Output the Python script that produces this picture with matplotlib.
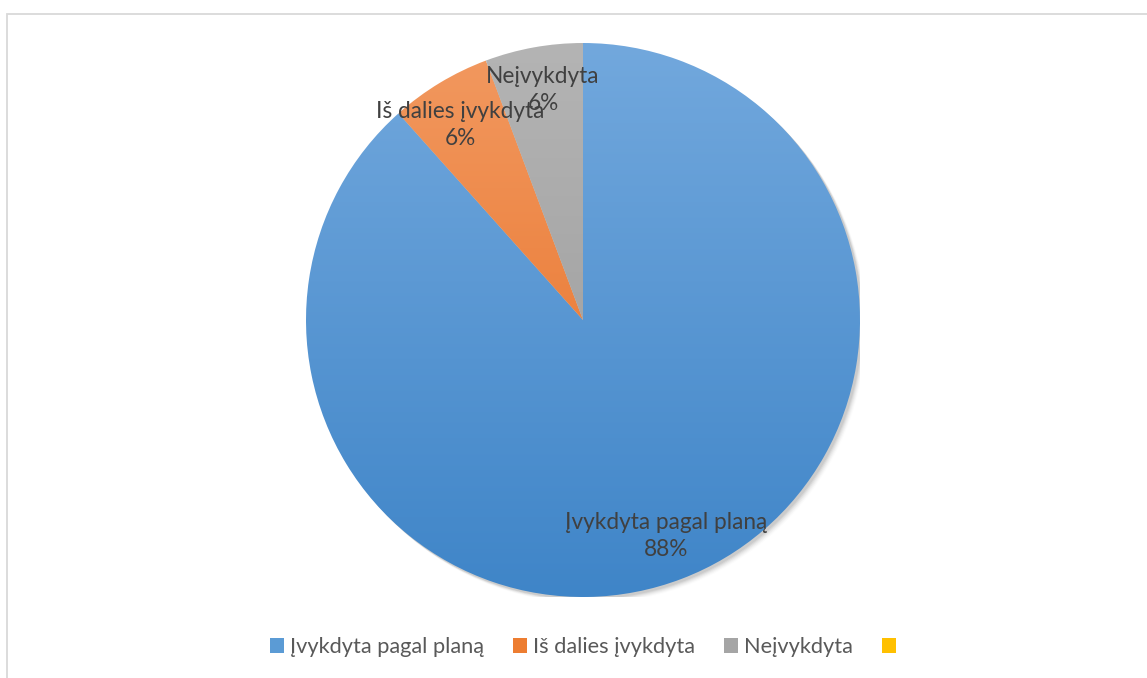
import numpy as np
import matplotlib
matplotlib.use("Agg")
import matplotlib.pyplot as plt
from matplotlib.patches import Rectangle, Patch, Circle
from matplotlib.colors import LinearSegmentedColormap

categories = ["Įvykdyta pagal planą", "Iš dalies įvykdyta", "Neįvykdyta", ""]
values = [88.4, 5.9, 5.7, 0]

top_colors = ["#72A8DD", "#F29960", "#B4B4B4", "#FFCB33"]
bottom_colors = ["#3F85C8", "#E66B1F", "#979797", "#F0B800"]
legend_colors = ["#5B9BD5", "#ED7D31", "#A5A5A5", "#FFC000"]

W, H = 1147, 678
fig = plt.figure(figsize=(W / 100, H / 100), dpi=100)
fig.patch.set_facecolor("white")

# outer chart frame
fig.patches.append(Rectangle((7.5 / W, -0.1), 1.2, (H - 13.5) / H + 0.1,
                             transform=fig.transFigure, fill=False,
                             edgecolor="#D9D9D9", linewidth=1.3))

cx, cy, r = 583, 320, 277
ax = fig.add_axes([(cx - r) / W, (H - cy - r) / H, 2 * r / W, 2 * r / H])
ax.axis("off")

# soft shadow
for i, a in enumerate(np.linspace(0.06, 0.012, 6)):
    ax.add_patch(Circle((0.008 + i * 0.003, -0.008 - i * 0.003), 1.0,
                        color="black", alpha=a, lw=0, zorder=0))

wedges, _ = ax.pie(values, startangle=90, counterclock=False, radius=1,
                   wedgeprops=dict(linewidth=0))

grad = np.linspace(0, 1, 256).reshape(-1, 1)
for w, tc, bc in zip(wedges, top_colors, bottom_colors):
    w.set_facecolor("none")
    cmap = LinearSegmentedColormap.from_list("g", [tc, bc])
    im = ax.imshow(grad, extent=(-1, 1, -1, 1), origin="upper", cmap=cmap,
                   aspect="auto", zorder=1)
    im.set_clip_path(w)

ax.set_xlim(-1, 1)
ax.set_ylim(-1, 1)

total = sum(values)
label_pos = [(666, 536), (460, 125), (543, 90)]
fs = 16.3
for (px, py), cat, v in zip(label_pos, categories[:3], values[:3]):
    fig.text(px / W, 1 - py / H, f"{cat}\n{round(100 * v / total)}%",
             ha="center", va="center", fontsize=fs, color="#404040",
             family="Lato", linespacing=1.4, zorder=5)

handles = [Patch(facecolor=c, edgecolor="none") for c in legend_colors]
leg = fig.legend(handles, categories, loc="center", ncol=4,
                 bbox_to_anchor=(586 / W, 1 - 647 / H), frameon=False,
                 prop=dict(family="Lato", size=15.7), handlelength=0.65,
                 handleheight=0.65, handletextpad=0.3, columnspacing=1.3)
for t in leg.get_texts():
    t.set_color("#595959")

fig.savefig("out.png", dpi=100, facecolor="white")
